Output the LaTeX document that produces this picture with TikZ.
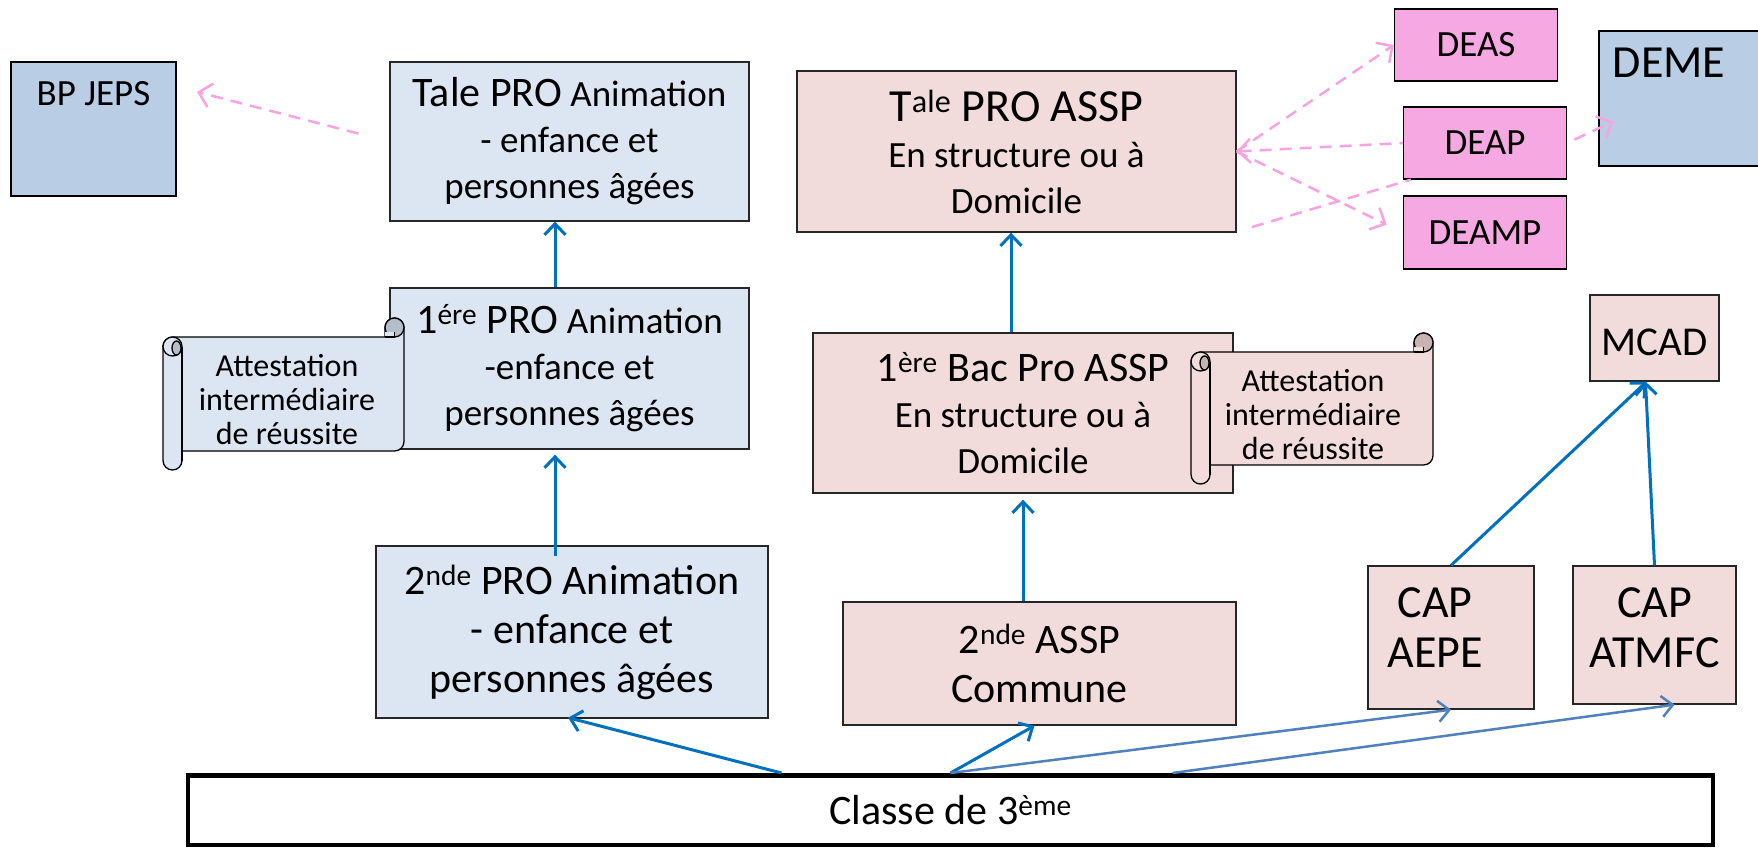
\documentclass[tikz,border=0pt]{standalone}
\usepackage{fontspec}
\setmainfont{Carlito}
\usetikzlibrary{arrows.meta}

\definecolor{lightblue}{RGB}{220,230,242}
\definecolor{midblue}{RGB}{185,205,229}
\definecolor{lightpink}{RGB}{242,220,219}
\definecolor{hotpink}{RGB}{246,168,226}
\definecolor{pinkline}{RGB}{249,162,226}
\definecolor{arrowblue}{RGB}{0,112,192}
\definecolor{softblue}{RGB}{79,129,189}
\definecolor{curlblue}{RGB}{180,190,202}
\definecolor{curlpink}{RGB}{200,178,178}

\newcommand\fbig{\fontsize{42}{49}\selectfont}
\newcommand\fmid{\fontsize{37}{46}\selectfont}
\newcommand\fcap{\fontsize{46}{50}\selectfont}
\newcommand\fscroll{\fontsize{32}{34}\selectfont}

% scroll: x0, y0, width, height, fill, curl
\newcommand\scrollbox[6]{%
  \begin{scope}[shift={(#1,#2)}, line width=1.3pt]
    \filldraw[fill=#5] (0,28.5) arc[start angle=180,end angle=270,radius=9.5]
      -- ({#3-19},19) -- ({#3-19},9.5) arc[start angle=180,end angle=360,radius=9.5]
      -- (#3,{#4-28.5}) arc[start angle=0,end angle=90,radius=9.5]
      -- (19,{#4-19}) -- (19,{#4-9.5}) arc[start angle=0,end angle=180,radius=9.5]
      -- cycle;
    \filldraw[fill=#5] (9.5,28.5) circle[radius=9.5];
    \filldraw[fill=#6] (13.5,30) ellipse[x radius=4.5,y radius=7];
    \draw (19,28.5) -- (19,{#4-9.5});
    \filldraw[fill=#6] ({#3-9.5},9.5) circle[radius=9.5];
    \fill[#5] ({#3-19},14) rectangle ({#3-9.5},19);
    \draw ({#3-19},19) -- ({#3-9.5},19) -- ({#3-9.5},14);
  \end{scope}}

\begin{document}
\begin{tikzpicture}[x=1pt,y=-1pt,
  box/.style={draw=black!85, line width=1.3pt, inner sep=0pt, align=center, font=\fmid},
  bluebox/.style={box, fill=lightblue},
  pinkbox/.style={box, fill=lightpink},
  diplome/.style={box, draw=black, fill=hotpink, minimum width=163pt},
  upblue/.style={draw=arrowblue, line width=3pt, -{Straight Barb[length=11pt,width=21pt]}},
  upsoft/.style={draw=softblue, line width=2.5pt, -{Straight Barb[length=11pt,width=21pt]}},
  pinkdash/.style={draw=pinkline, line width=2.5pt, dash pattern=on 12pt off 8pt},
  pinkarrow/.style={pinkdash, -{Straight Barb[length=12pt,width=24pt]}}]

\fill[white] (0,0) rectangle (1758,849);
\useasboundingbox (0,0) rectangle (1758,849);

% filiere animation
\node[box, fill=midblue, draw=black, minimum width=165pt, minimum height=134pt,
  inner ysep=12pt, text height=31pt, text depth=79pt] (bpjeps) at (93.5,129) {BP JEPS};
\node[bluebox, minimum width=359pt, minimum height=159pt] (taleanim) at (569.5,141.5)
  {{\fbig Tale PRO} Animation\\- enfance et\\personnes âgées};
\node[bluebox, minimum width=359pt, minimum height=161pt] (anim1) at (569.5,368.5)
  {{\fbig 1\textsuperscript{ére} PRO} Animation\\-enfance et\\personnes âgées};
\node[bluebox, font=\fbig, minimum width=392pt, minimum height=172pt] (anim2) at (572,632)
  {2\textsuperscript{nde} PRO Animation\\- enfance et\\personnes âgées};

% filiere ASSP
\node[pinkbox, minimum width=439pt, minimum height=161pt] (taleassp) at (1016.5,151.5)
  {{\fcap T\textsuperscript{ale} PRO ASSP}\\En structure ou à\\Domicile};
\node[pinkbox, minimum width=420pt, minimum height=160pt] (assp1) at (1023,413)
  {{\fbig 1\textsuperscript{ère} Bac Pro ASSP}\\En structure ou à\\Domicile};
\node[pinkbox, font=\fbig, minimum width=393pt, minimum height=123pt] (assp2) at (1039.5,663.5)
  {2\textsuperscript{nde} ASSP\\Commune};

% diplomes
\node[diplome, minimum height=72pt] (deas) at (1476,45) {DEAS};
\node[diplome, minimum height=72pt] (deap) at (1485,143) {DEAP};
\node[diplome, minimum height=73pt] (deamp) at (1485,232.5) {DEAMP};
\node[box, fill=midblue, draw=black, font=\fcap, minimum width=163pt, minimum height=135pt,
  inner ysep=12pt, text height=34pt, text depth=77pt] (deme) at (1680.5,98.5) {DEME\hspace*{23pt}};

% CAP
\node[pinkbox, font=\fontsize{41}{46}\selectfont, minimum width=129pt, minimum height=86pt,
  text height=60pt, text depth=26pt] (mcad) at (1654.5,338) {MCAD};
\node[pinkbox, font=\fcap, minimum width=166pt, minimum height=143pt,
  text height=101pt, text depth=42pt] (capaepe) at (1451,637.5) {CAP\hspace*{32pt}\\AEPE\hspace*{32pt}};
\node[pinkbox, font=\fcap, minimum width=163pt, minimum height=138pt,
  text height=101pt, text depth=37pt] (capatmfc) at (1654.5,635) {CAP\\ATMFC};

\node[box, draw=black, fill=white, line width=4.5pt, font=\fbig, minimum width=1525pt, minimum height=69.5pt] (classe) at (950.5,810)
  {Classe de 3\textsuperscript{ème}};

% attestations
\scrollbox{163}{318}{241}{152}{lightblue}{curlblue}
\node[font=\fscroll, align=center] (attest1) at (287,400) {Attestation\\intermédiaire\\de réussite};
\scrollbox{1191}{333}{242}{151}{lightpink}{curlpink}
\node[font=\fscroll, align=center] (attest2) at (1313,415) {Attestation\\intermédiaire\\de réussite};

% passages
\draw[upblue, shorten <=-11pt, shorten >=5pt] ([xshift=-17pt]anim2.north) -- ([xshift=-14.5pt]anim1.south);
\draw[upblue] ([xshift=-14.5pt]anim1.north) -- ([xshift=-14.5pt]taleanim.south);
\draw[upblue, shorten >=6pt] (assp2.north -| assp1.south) -- (assp1.south);
\draw[upblue] ([xshift=-12pt]assp1.north) -- ([xshift=-12pt]assp1.north |- taleassp.south);
\draw[upblue] (capaepe.north) -- ([xshift=-8pt]mcad.south);
\draw[upblue] (capatmfc.north) -- ([xshift=-9pt]mcad.south);

\draw[upblue, shorten >=-4pt] ([xshift=-169pt]classe.north) -- (anim2.south);
\draw[upblue] (classe.north) -- ([xshift=-5pt]assp2.south);
\draw[upsoft] (classe.north) -- (capaepe.south);
\draw[upsoft] ([xshift=222pt]classe.north) -- ([xshift=20pt]capatmfc.south);

% poursuites
\draw[pinkarrow, shorten <=32pt, shorten >=21pt] (taleanim.west) -- (bpjeps.27);
\draw[pinkarrow] (taleassp.east) -- (deas.west);
\draw[pinkarrow, {Straight Barb[length=12pt,width=24pt]}-] (taleassp.east) -- (deap.west);
\draw[pinkarrow, shorten >=18pt] (taleassp.east) -- (deamp.west);
\coordinate (loose) at (1252,227);
\draw[pinkdash] (loose) -- ([xshift=8pt]deap.south west);
\draw[pinkarrow, shorten <=8pt] (deap.east) -- ([shift={(15,23)}]deme.west);
\end{tikzpicture}
\end{document}
